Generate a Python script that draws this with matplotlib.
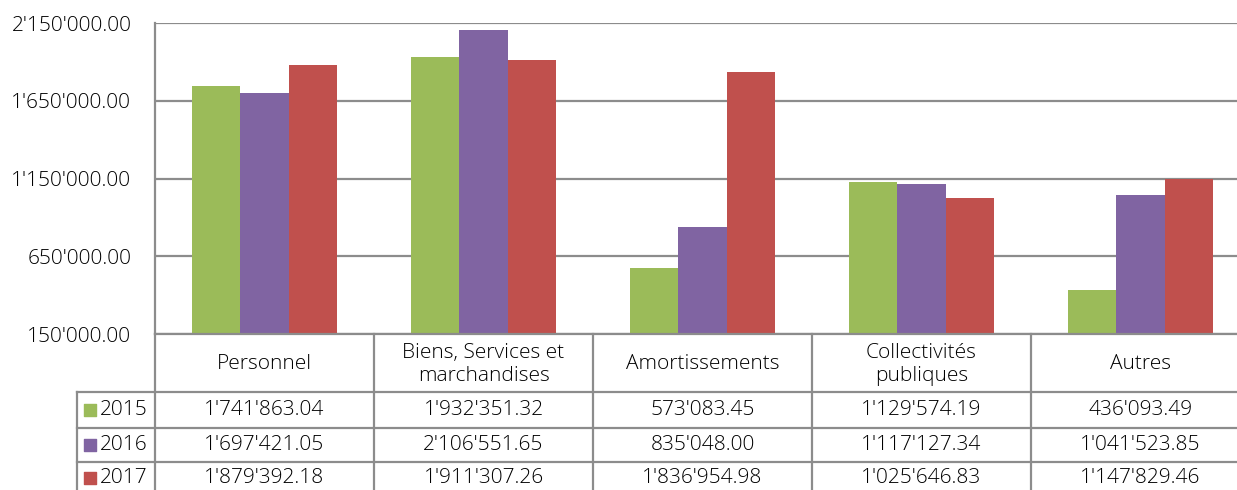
import numpy as np
import matplotlib.pyplot as plt

categories = ['Personnel', 'Biens, Services et\nmarchandises', 'Amortissements',
              'Collectivités\npubliques', 'Autres']
years = ['2015', '2016', '2017']
v2015 = [1741863.04, 1932351.32, 573083.45, 1129574.19, 436093.49]
v2016 = [1697421.05, 2106551.65, 835048.00, 1117127.34, 1041523.85]
v2017 = [1879392.18, 1911307.26, 1836954.98, 1025646.83, 1147829.46]
yticks = [150000, 650000, 1150000, 1650000, 2150000]
colors = ['#9BBB59', '#8064A2', '#C0504D']

series = [v2015, v2016, v2017]
plt.rcParams['font.family'] = ['Open Sans', 'DejaVu Sans']
plt.rcParams['font.weight'] = 'light'

def fmt(v):
    return f'{v:,.2f}'.replace(',', "'")

W, H = 1237, 490
fig = plt.figure(figsize=(W / 100, H / 100), dpi=100)
fs = 15

left_px, right_px = 155, 1250
ax = fig.add_axes([left_px / W, (H - 334) / H, (right_px - left_px) / W, (334 - 23) / H])
x = np.arange(len(categories))
bw = 0.22
for i, vals in enumerate(series):
    ax.bar(x + (i - 1) * bw, vals, bw, bottom=0, color=colors[i], zorder=3)
ax.set_xlim(-0.5, len(categories) - 0.5)
ax.set_ylim(yticks[0], yticks[-1])
ax.set_yticks(yticks)
ax.set_yticklabels([fmt(t) for t in yticks], fontsize=fs)
ax.tick_params(axis='y', length=0, pad=17)
ax.set_xticks([])
ax.grid(axis='y', color='#8c8c8c', lw=1.6, zorder=0)
for s in ['top', 'right']:
    ax.spines[s].set_visible(False)
for s in ['left', 'bottom']:
    ax.spines[s].set_color('#8c8c8c')
    ax.spines[s].set_linewidth(1.6)
ax.spines['bottom'].set_zorder(5)

# data table below the plot (y in pixel rows from the top)
tab = fig.add_axes([left_px / W, 0, (right_px - left_px) / W, (H - 334) / H])
tab.set_xlim(-0.5, len(categories) - 0.5)
tab.set_ylim(H, 334)
tab.axis('off')
px_per_unit = (right_px - left_px) / len(categories)
leg_left = -0.5 - 78 / px_per_unit
row_edges = [334, 392, 428, 462, 500]
lc = '#8c8c8c'
lw = 1.6
for k in range(len(categories) + 1):
    tab.plot([k - 0.5, k - 0.5], [334, 500], color=lc, lw=lw, clip_on=False)
tab.plot([leg_left, leg_left], [392, 500], color=lc, lw=lw, clip_on=False)
for y in row_edges[1:-1]:
    tab.plot([leg_left, len(categories) - 0.5], [y, y], color=lc, lw=lw, clip_on=False)

for j, cat in enumerate(categories):
    tab.text(j, 364, cat, ha='center', va='center', fontsize=fs, linespacing=1.2)
row_y = [410, 445, 478]
for i, vals in enumerate(series):
    yc = row_y[i]
    for j, v in enumerate(vals):
        tab.text(j, yc, fmt(v), ha='center', va='center', fontsize=fs)
    tab.scatter([leg_left + 13 / px_per_unit], [yc], marker='s', s=80,
                color=colors[i], clip_on=False, zorder=3)
    tab.text(leg_left + 23 / px_per_unit, yc, years[i], ha='left', va='center', fontsize=fs)

fig.savefig('out.png', dpi=100)
